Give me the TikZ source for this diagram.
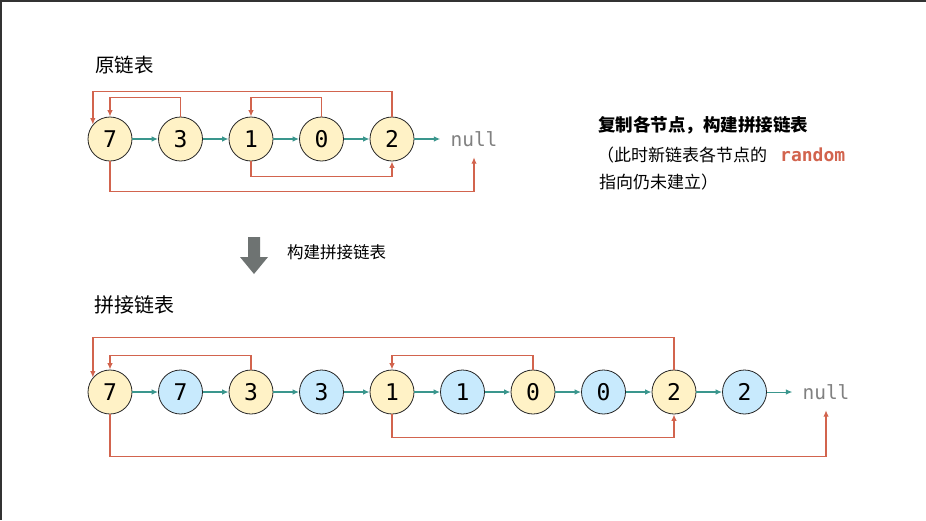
\documentclass[tikz,border=0pt]{standalone}
\usepackage{fontspec}
\usetikzlibrary{arrows.meta}
\newfontfamily\cjk{Noto Sans CJK SC}
\newfontfamily\codefont{DejaVu Sans Mono}
\definecolor{ptrred}{HTML}{D2644E}
\definecolor{nextteal}{HTML}{3A968D}
\definecolor{oldfill}{HTML}{FFF2C6}
\definecolor{newfill}{HTML}{C8EAFD}
\definecolor{arrowgray}{HTML}{6E7372}

\begin{document}
\begin{tikzpicture}[x=1pt,y=-1pt]
    \tikzstyle oldnode=[circle,draw=black!85,line width=0.8pt,fill=oldfill,minimum size=44pt,inner sep=0pt,font=\codefont\fontsize{23}{23}\selectfont]
    \tikzstyle newnode=[oldnode,fill=newfill]
    \tikzstyle nullnode=[inner xsep=10pt,inner ysep=0pt,minimum height=36pt,text=black!50,font=\codefont\fontsize{19.5}{19.5}\selectfont]
    \tikzstyle next=[nextteal,line width=1.5pt,-{Latex[length=6.5pt,width=5.5pt]}]
    \tikzstyle randptr=[ptrred,line width=1.5pt,-{Latex[length=6.5pt,width=5.5pt]}]
    \tikzstyle title=[anchor=west,inner sep=0pt,font=\cjk\fontsize{19.5}{19.5}\selectfont]
    \useasboundingbox (0,0) rectangle (926,520);
    \fill[white] (0,0) rectangle (926,520);
    \draw[line width=2pt,black!80] (0,1) -- (926,1);
    \draw[line width=2pt,black!80] (1,0) -- (1,520);

    \node[title] (oldtitle) at (95,65) {原链表};
    \node[oldnode] (o7) at (110,139) {7};
    \node[oldnode] (o3) at (180.5,139) {3};
    \node[oldnode] (o1) at (251,139) {1};
    \node[oldnode] (o0) at (321.5,139) {0};
    \node[oldnode] (o2) at (392,139) {2};
    \node[nullnode] (onull) at (474,139) {null};
    \draw[next] (o7) -- (o3);
    \draw[next] (o3) -- (o1);
    \draw[next] (o1) -- (o0);
    \draw[next] (o0) -- (o2);
    \draw[next] (o2) -- (onull);
    \draw[randptr] (o2.north) -- ++(0,-25) -| (o7.140);
    \draw[randptr] (o3.north) -- ++(0,-19) -| (o7.north);
    \draw[randptr] (o0.north) -- ++(0,-19) -| (o1.north);
    \draw[randptr] (o1.south) -- ++(0,15) -| (o2.south);
    \draw[randptr] (o7.south) -- ++(0,30) -| (onull.south);

    \node[anchor=west,inner sep=0pt,font=\cjk\bfseries\fontsize{17.5}{17.5}\selectfont] (note1) at (598,125) {复制各节点，构建拼接链表};
    \node[anchor=west,inner sep=0pt,font=\cjk\fontsize{17}{17}\selectfont] (note2) at (597,155) {（此时新链表各节点的\hspace{13pt}{\codefont\bfseries\color{ptrred}\fontsize{18}{18}\selectfont random}};
    \node[anchor=west,inner sep=0pt,font=\cjk\fontsize{17}{17}\selectfont] (note3) at (599,182) {指向仍未建立）};

    \fill[arrowgray] (248,237) -- (260,237) -- (260,257) -- (268,257) -- (254,274) -- (240,257) -- (248,257) -- cycle;
    \node[anchor=west,inner sep=0pt,font=\cjk\fontsize{16.5}{16.5}\selectfont] (buildlabel) at (287,252) {构建拼接链表};

    \node[title,font=\cjk\fontsize{20}{20}\selectfont] (newtitle) at (94,305) {拼接链表};
    \node[oldnode] (p7) at (110,392) {7};
    \node[newnode] (q7) at (180.5,392) {7};
    \node[oldnode] (p3) at (251,392) {3};
    \node[newnode] (q3) at (321.5,392) {3};
    \node[oldnode] (p1) at (392,392) {1};
    \node[newnode] (q1) at (462.5,392) {1};
    \node[oldnode] (p0) at (533,392) {0};
    \node[newnode] (q0) at (603.5,392) {0};
    \node[oldnode] (p2) at (674,392) {2};
    \node[newnode] (q2) at (744.5,392) {2};
    \node[nullnode] (pnull) at (826,392) {null};
    \draw[next] (p7) -- (q7);
    \draw[next] (q7) -- (p3);
    \draw[next] (p3) -- (q3);
    \draw[next] (q3) -- (p1);
    \draw[next] (p1) -- (q1);
    \draw[next] (q1) -- (p0);
    \draw[next] (p0) -- (q0);
    \draw[next] (q0) -- (p2);
    \draw[next] (p2) -- (q2);
    \draw[next,line width=1pt] (q2) -- (pnull);
    \draw[randptr] (p2.north) -- ++(0,-32) -| (p7.140);
    \draw[randptr] (p3.north) -- ++(0,-14) -| (p7.north);
    \draw[randptr] (p0.north) -- ++(0,-14) -| (p1.north);
    \draw[randptr] (p1.south) -- ++(0,23) -| (p2.south);
    \draw[randptr] (p7.south) -- ++(0,42) -| (pnull.south);
\end{tikzpicture}
\end{document}
